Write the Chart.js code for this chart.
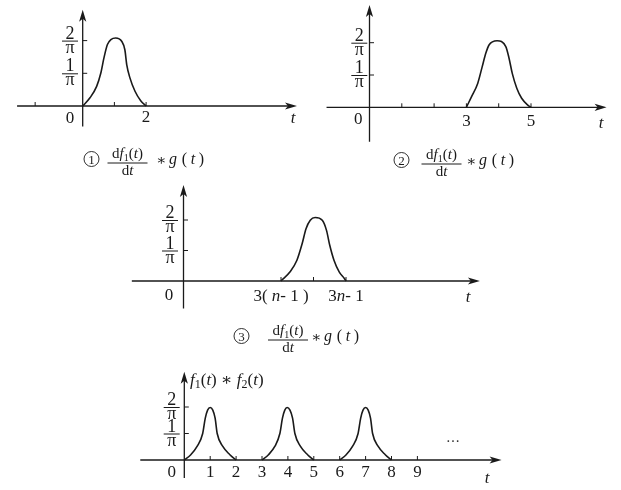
<!DOCTYPE html>
<html>
<head>
<meta charset="utf-8">
<script src="https://cdn.jsdelivr.net/npm/chart.js@4.4.1/dist/chart.umd.min.js"></script>
<style>
  body { margin: 0; background: #fff; }
  #wrap { position: relative; width: 621px; height: 490px; }
  canvas { position: absolute; left: 0; top: 0; }
</style>
</head>
<body>
<div id="wrap">
  <canvas id="c1" width="621" height="490"></canvas>
  <canvas id="c2" width="621" height="490"></canvas>
  <canvas id="c3" width="621" height="490"></canvas>
  <canvas id="c4" width="621" height="490"></canvas>
</div>
<script>
var INK = '#1a1a1a';
var SERIF = '"Liberation Serif", "DejaVu Serif", "Noto Sans CJK SC", serif';

// y ticks shared by all plots, values in units of 1/π
var yTickValues = [1, 2];
var yTickNumerators = ['1', '2'];

// ① df1(t)/dt * g(t)
var p1Times  = [0, 0.23, 0.44, 0.57, 0.67, 0.78, 0.89, 1.04, 1.23, 1.33, 1.39, 1.49, 1.65, 1.83, 2];
var p1Values = [0, 0.25, 0.6, 1.0, 1.47, 1.88, 2.03, 2.08, 1.98, 1.72, 1.26, 0.86, 0.45, 0.16, 0];
var p1XTicks  = [-1.5, 1, 2];
var p1XLabels = ['', '', '2'];

// ② shifted by 3
var p2Times  = [3, 3.16, 3.35, 3.49, 3.6, 3.7, 3.95, 4.22, 4.32, 4.42, 4.56, 4.71, 4.9, 5];
var p2Values = [0, 0.33, 0.74, 1.26, 1.67, 1.93, 2.06, 1.88, 1.52, 1.05, 0.59, 0.28, 0.07, 0];
var p2XTicks  = [1, 2, 3, 4, 5];
var p2XLabels = ['', '', '3', '', '5'];

// ③ general pulse between 3(n-1) and 3n-1 (drawn for n = 2)
var p3Times  = [3, 3.28, 3.49, 3.65, 3.77, 3.9, 4.05, 4.27, 4.4, 4.5, 4.63, 4.79, 4.95, 5];
var p3Values = [0, 0.3, 0.68, 1.22, 1.71, 1.99, 2.08, 1.99, 1.66, 1.17, 0.68, 0.3, 0.08, 0];
var p3XTicks  = [3, 4, 5];
var p3XLabels = ['3( n- 1 )', '', '3n- 1'];

// f1(t) * f2(t): three pulses
var pulse1Times = [0, 0.25, 0.5, 0.71, 0.81, 0.9, 1, 1.1, 1.19, 1.27, 1.48, 1.76, 2];
var pulse2Times = [3, 3.25, 3.5, 3.69, 3.79, 3.88, 3.97, 4.08, 4.18, 4.27, 4.48, 4.76, 5];
var pulse3Times = [6, 6.25, 6.5, 6.71, 6.81, 6.9, 7, 7.1, 7.19, 7.27, 7.48, 7.76, 8];
var pulseValues = [0, 0.2, 0.52, 1.0, 1.58, 1.88, 1.98, 1.88, 1.58, 1.0, 0.52, 0.2, 0];
var p4XTicks  = [1, 2, 3, 4, 5, 6, 7, 8, 9];
var p4XLabels = ['1', '2', '3', '4', '5', '6', '7', '8', '9'];

// placement of each small plot on the page (pixels)
var layout1 = { ox: 82.7, oy: 106, pxT: 31.7, pxV: 32.7, xFrom: -2.07, xTo: 6.76, yFrom: -0.63, yTo: 2.94,
                fracDx: -12.7, labelBase: 122, zero: [70, 123.4], tPos: [293, 123] };
var layout2 = { ox: 369.5, oy: 107.3, pxT: 32.3, pxV: 32.3, xFrom: -1.33, xTo: 7.34, yFrom: -1.07, yTo: 3.17,
                fracDx: -10.2, labelBase: 125.5, zero: [358.3, 123.5], tPos: [601, 128] };
var layout3 = { ox: 183.5, oy: 281, pxT: 32.5, pxV: 30.5, xFrom: -1.59, xTo: 9.12, yFrom: -0.9, yTo: 3.15,
                fracDx: -13.5, labelBase: 301, zero: [169, 300], tPos: [468, 301.5] };
var layout4 = { ox: 184.3, oy: 460, pxT: 25.9, pxV: 26.5, xFrom: -1.7, xTo: 12.25, yFrom: -0.68, yTo: 3.33,
                fracDx: -12.6, labelBase: 477, zero: [171.7, 476.5], tPos: [487, 483] };

// text with italic letters and _x subscripts
function mathText(ctx, str, x, y, size, align) {
  var runs = [];
  for (var i = 0; i < str.length; i++) {
    var ch = str[i];
    if (ch === '_') {
      i++;
      runs.push({ s: str[i], font: Math.round(size * 0.68) + 'px ' + SERIF, dy: size * 0.2 });
      continue;
    }
    var it = /[ntfg]/.test(ch);
    runs.push({ s: ch, font: (it ? 'italic ' : '') + size + 'px ' + SERIF, dy: 0 });
  }
  var w = 0;
  runs.forEach(function (r) { ctx.font = r.font; r.w = ctx.measureText(r.s).width; w += r.w; });
  var cx = align === 'center' ? x - w / 2 : (align === 'right' ? x - w : x);
  ctx.textAlign = 'left';
  ctx.textBaseline = 'alphabetic';
  runs.forEach(function (r) { ctx.font = r.font; ctx.fillText(r.s, cx, y + r.dy); cx += r.w; });
  return w;
}

function caption(ctx, num, cx, fracX, barY, starX) {
  ctx.fillStyle = INK;
  ctx.strokeStyle = INK;
  // circled number
  ctx.lineWidth = 0.9;
  ctx.beginPath();
  ctx.arc(cx, barY - 3.5, 7.5, 0, Math.PI * 2);
  ctx.stroke();
  ctx.font = '13px ' + SERIF;
  ctx.textAlign = 'center';
  ctx.textBaseline = 'alphabetic';
  ctx.fillText(num, cx, barY + 1);
  // fraction
  mathText(ctx, 'df_1(t)', fracX, barY - 5, 15, 'center');
  mathText(ctx, 'dt', fracX, barY + 12, 15, 'center');
  ctx.lineWidth = 1;
  ctx.beginPath();
  ctx.moveTo(fracX - 20, barY + 0.5);
  ctx.lineTo(fracX + 20, barY + 0.5);
  ctx.stroke();
  ctx.font = '15px ' + SERIF;
  ctx.textAlign = 'center';
  ctx.fillText('\u2217', starX, barY + 2);
  ctx.font = 'italic 16px ' + SERIF;
  ctx.fillText('g', starX + 12, barY + 1);
  ctx.font = '16px ' + SERIF;
  ctx.fillText('(', starX + 23.5, barY + 1);
  ctx.font = 'italic 16px ' + SERIF;
  ctx.fillText('t', starX + 32, barY + 1);
  ctx.font = '16px ' + SERIF;
  ctx.fillText(')', starX + 40.5, barY + 1);
}

function curve(times, values) {
  return {
    data: times.map(function (t, i) { return { x: t, y: values[i] }; }),
    borderColor: INK,
    borderWidth: 1.6,
    pointRadius: 0,
    fill: false,
    cubicInterpolationMode: 'monotone'
  };
}

function plot(id, L, datasets, xTicks, xLabels, extra) {
  var axes = {
    id: 'axes_' + id,
    afterDatasetsDraw: function (chart) {
      var ctx = chart.ctx, xs = chart.scales.x, ys = chart.scales.y;
      var ox = xs.getPixelForValue(0), oy = ys.getPixelForValue(0);
      var x0 = xs.getPixelForValue(L.xFrom), x1 = xs.getPixelForValue(L.xTo);
      var y0 = ys.getPixelForValue(L.yFrom), y1 = ys.getPixelForValue(L.yTo);
      ctx.save();
      ctx.strokeStyle = INK;
      ctx.fillStyle = INK;
      ctx.lineWidth = 1.3;
      ctx.beginPath();
      ctx.moveTo(x0, oy); ctx.lineTo(x1 - 6, oy);
      ctx.moveTo(ox, y0); ctx.lineTo(ox, y1 + 6);
      ctx.stroke();
      // arrow heads
      ctx.beginPath();
      ctx.moveTo(x1, oy); ctx.lineTo(x1 - 12, oy - 3.6); ctx.lineTo(x1 - 9, oy); ctx.lineTo(x1 - 12, oy + 3.6);
      ctx.closePath(); ctx.fill();
      ctx.beginPath();
      ctx.moveTo(ox, y1); ctx.lineTo(ox - 3.6, y1 + 12); ctx.lineTo(ox, y1 + 9); ctx.lineTo(ox + 3.6, y1 + 12);
      ctx.closePath(); ctx.fill();
      // tick marks
      ctx.lineWidth = 1;
      ctx.beginPath();
      xTicks.forEach(function (t) {
        var px = xs.getPixelForValue(t);
        ctx.moveTo(px, oy); ctx.lineTo(px, oy - 4);
      });
      yTickValues.forEach(function (v) {
        var py = ys.getPixelForValue(v);
        ctx.moveTo(ox, py); ctx.lineTo(ox + 4.5, py);
      });
      ctx.stroke();
      // tick labels
      xTicks.forEach(function (t, i) {
        if (xLabels[i]) mathText(ctx, xLabels[i], xs.getPixelForValue(t), L.labelBase, 17, 'center');
      });
      mathText(ctx, '0', L.zero[0], L.zero[1], 17, 'center');
      mathText(ctx, 't', L.tPos[0], L.tPos[1], 17, 'center');
      // fraction labels n/π on the y axis
      yTickValues.forEach(function (v, i) {
        var py = ys.getPixelForValue(v), fx = ox + L.fracDx;
        ctx.lineWidth = 1;
        ctx.beginPath();
        ctx.moveTo(fx - 8, py + 0.5); ctx.lineTo(fx + 8, py + 0.5);
        ctx.stroke();
        ctx.font = '18px ' + SERIF;
        ctx.textAlign = 'center';
        ctx.textBaseline = 'alphabetic';
        ctx.fillText(yTickNumerators[i], fx, py - 2);
        ctx.fillText('\u03c0', fx, py + 12);
      });
      if (extra) extra(ctx);
      ctx.restore();
    }
  };
  return new Chart(document.getElementById(id), {
    type: 'line',
    data: { datasets: datasets },
    options: {
      responsive: false,
      animation: false,
      events: [],
      layout: { padding: 0 },
      plugins: { legend: { display: false }, tooltip: { enabled: false } },
      scales: {
        x: { type: 'linear', display: false, bounds: 'data', min: -L.ox / L.pxT, max: (621 - L.ox) / L.pxT },
        y: { type: 'linear', display: false, bounds: 'data', min: -(490 - L.oy) / L.pxV, max: L.oy / L.pxV }
      }
    },
    plugins: [axes]
  });
}

plot('c1', layout1, [curve(p1Times, p1Values)], p1XTicks, p1XLabels, function (ctx) {
  caption(ctx, '1', 91.5, 127.5, 162.5, 161);
});
plot('c2', layout2, [curve(p2Times, p2Values)], p2XTicks, p2XLabels, function (ctx) {
  caption(ctx, '2', 401.5, 441.5, 163.5, 471);
});
plot('c3', layout3, [curve(p3Times, p3Values)], p3XTicks, p3XLabels, function (ctx) {
  caption(ctx, '3', 241.5, 288, 339.5, 316);
});
plot('c4', layout4, [curve(pulse1Times, pulseValues), curve(pulse2Times, pulseValues), curve(pulse3Times, pulseValues)],
  p4XTicks, p4XLabels, function (ctx) {
    mathText(ctx, 'f_1(t) \u2217 f_2(t)', 190, 384.5, 17, 'left');
    ctx.font = '14px ' + SERIF;
    ctx.textAlign = 'center';
    ctx.textBaseline = 'middle';
    ctx.fillText('\u22ef', 453, 442);
  });
</script>
</body>
</html>
